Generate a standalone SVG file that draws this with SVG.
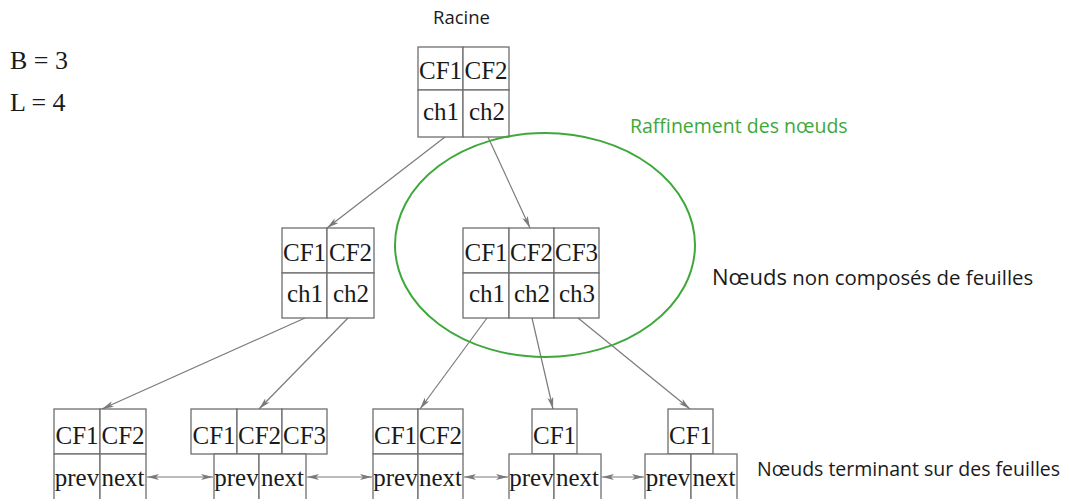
<svg xmlns="http://www.w3.org/2000/svg" width="1070" height="499" viewBox="0 0 1070 499">
  <style>
    .cell { fill: #fff; stroke: #6e6e6e; stroke-width: 1.3; }
    .lbl { font-family: "Liberation Serif", "Times New Roman", serif; font-size: 25px; fill: #1a1a1a; text-anchor: middle; }
    .param { font-family: "Liberation Serif", "Times New Roman", serif; font-size: 26px; fill: #1a1a1a; }
    .note { font-family: "Open Sans", "Liberation Sans", sans-serif; font-size: 19.5px; fill: #1a1a1a; }
    .edge { stroke: #7a7a7a; stroke-width: 1.2; fill: none; }
  </style>
  <defs>
    <marker id="arr" viewBox="0 0 12 6" refX="12" refY="3" markerWidth="12" markerHeight="6" markerUnits="userSpaceOnUse" orient="auto-start-reverse">
      <path d="M0,0 L12,3 L0,6 L3,3 Z" fill="#7a7a7a"/>
    </marker>
  </defs>

  <rect width="1070" height="499" fill="#fff"/>

  <!-- parameters -->
  <text class="param" x="10" y="69">B = 3</text>
  <text class="param" x="10" y="111">L = 4</text>

  <text class="note" x="433" y="24" style="font-size:18.5px">Racine</text>

  <!-- connectors -->
  <g id="connectors">
    <line class="edge" x1="445" y1="137" x2="327" y2="228" marker-end="url(#arr)"/>
    <line class="edge" x1="488" y1="137" x2="530" y2="228" marker-end="url(#arr)"/>
    <line class="edge" x1="305" y1="318" x2="102" y2="409" marker-end="url(#arr)"/>
    <line class="edge" x1="348" y1="318" x2="259" y2="409" marker-end="url(#arr)"/>
    <line class="edge" x1="487" y1="318" x2="420" y2="409" marker-end="url(#arr)"/>
    <line class="edge" x1="532" y1="318" x2="553" y2="409" marker-end="url(#arr)"/>
    <line class="edge" x1="578" y1="318" x2="690" y2="409" marker-end="url(#arr)"/>
    <!-- sibling links between leaves -->
    <line class="edge" x1="147" y1="477" x2="213" y2="477" marker-start="url(#arr)" marker-end="url(#arr)"/>
    <line class="edge" x1="307" y1="477" x2="372" y2="477" marker-start="url(#arr)" marker-end="url(#arr)"/>
    <line class="edge" x1="464" y1="477" x2="508" y2="477" marker-start="url(#arr)" marker-end="url(#arr)"/>
    <line class="edge" x1="602" y1="477" x2="644" y2="477" marker-start="url(#arr)" marker-end="url(#arr)"/>
  </g>

  <!-- root -->
  <g id="root">
    <rect class="cell" x="418" y="47" width="45" height="43"/>
    <rect class="cell" x="463" y="47" width="46" height="43"/>
    <rect class="cell" x="418" y="90" width="45" height="47"/>
    <rect class="cell" x="463" y="90" width="46" height="47"/>
    <text class="lbl" x="440.5" y="79">CF1</text>
    <text class="lbl" x="486" y="79">CF2</text>
    <text class="lbl" x="441" y="120">ch1</text>
    <text class="lbl" x="487" y="120">ch2</text>
  </g>

  <!-- inner node, left -->
  <g id="inner-left">
    <rect class="cell" x="282" y="228" width="45" height="45"/>
    <rect class="cell" x="327" y="228" width="47" height="45"/>
    <rect class="cell" x="282" y="273" width="45" height="45"/>
    <rect class="cell" x="327" y="273" width="47" height="45"/>
    <text class="lbl" x="304.5" y="261">CF1</text>
    <text class="lbl" x="350.5" y="261">CF2</text>
    <text class="lbl" x="305" y="302">ch1</text>
    <text class="lbl" x="351" y="302">ch2</text>
  </g>

  <!-- inner node, right -->
  <g id="inner-right">
    <rect class="cell" x="463" y="228" width="46" height="45"/>
    <rect class="cell" x="509" y="228" width="45" height="45"/>
    <rect class="cell" x="554" y="228" width="45" height="45"/>
    <rect class="cell" x="463" y="273" width="46" height="45"/>
    <rect class="cell" x="509" y="273" width="45" height="45"/>
    <rect class="cell" x="554" y="273" width="45" height="45"/>
    <text class="lbl" x="486" y="261">CF1</text>
    <text class="lbl" x="531.5" y="261">CF2</text>
    <text class="lbl" x="576.5" y="261">CF3</text>
    <text class="lbl" x="487" y="302">ch1</text>
    <text class="lbl" x="532" y="302">ch2</text>
    <text class="lbl" x="577" y="302">ch3</text>
  </g>

  <!-- leaves -->
  <g id="leaf-1">
    <rect class="cell" x="54" y="409" width="46" height="45"/>
    <rect class="cell" x="100" y="409" width="46" height="45"/>
    <rect class="cell" x="54" y="454" width="46" height="48"/>
    <rect class="cell" x="100" y="454" width="46" height="48"/>
    <text class="lbl" x="77" y="444">CF1</text>
    <text class="lbl" x="123" y="444">CF2</text>
    <text class="lbl" x="77" y="486">prev</text>
    <text class="lbl" x="123" y="486">next</text>
  </g>

  <g id="leaf-2">
    <rect class="cell" x="191" y="409" width="46" height="45"/>
    <rect class="cell" x="237" y="409" width="45" height="45"/>
    <rect class="cell" x="282" y="409" width="45" height="45"/>
    <rect class="cell" x="214" y="454" width="45" height="48"/>
    <rect class="cell" x="259" y="454" width="47" height="48"/>
    <text class="lbl" x="214" y="444">CF1</text>
    <text class="lbl" x="259.5" y="444">CF2</text>
    <text class="lbl" x="304.5" y="444">CF3</text>
    <text class="lbl" x="236.5" y="486">prev</text>
    <text class="lbl" x="282.5" y="486">next</text>
  </g>

  <g id="leaf-3">
    <rect class="cell" x="373" y="409" width="45" height="45"/>
    <rect class="cell" x="418" y="409" width="45" height="45"/>
    <rect class="cell" x="373" y="454" width="45" height="48"/>
    <rect class="cell" x="418" y="454" width="45" height="48"/>
    <text class="lbl" x="395.5" y="444">CF1</text>
    <text class="lbl" x="440.5" y="444">CF2</text>
    <text class="lbl" x="395.5" y="486">prev</text>
    <text class="lbl" x="440.5" y="486">next</text>
  </g>

  <g id="leaf-4">
    <rect class="cell" x="532" y="409" width="45" height="45"/>
    <rect class="cell" x="509" y="454" width="45" height="48"/>
    <rect class="cell" x="554" y="454" width="47" height="48"/>
    <text class="lbl" x="554.5" y="444">CF1</text>
    <text class="lbl" x="531.5" y="486">prev</text>
    <text class="lbl" x="577.5" y="486">next</text>
  </g>

  <g id="leaf-5">
    <rect class="cell" x="668" y="409" width="45" height="45"/>
    <rect class="cell" x="645" y="454" width="46" height="48"/>
    <rect class="cell" x="691" y="454" width="46" height="48"/>
    <text class="lbl" x="690.5" y="444">CF1</text>
    <text class="lbl" x="668" y="486">prev</text>
    <text class="lbl" x="714" y="486">next</text>
  </g>

  <!-- refinement highlight -->
  <ellipse cx="545" cy="245" rx="150" ry="112" fill="none" stroke="#3fa83a" stroke-width="2"/>
  <text class="note" x="630" y="133" style="fill:#3fa83a">Raffinement des nœuds</text>

  <text class="note" x="712" y="285" style="font-size:20.4px"><tspan style="font-size:22px">Nœuds</tspan> non composés de feuilles</text>
  <text class="note" x="757" y="476">Nœuds terminant sur des feuilles</text>
</svg>
